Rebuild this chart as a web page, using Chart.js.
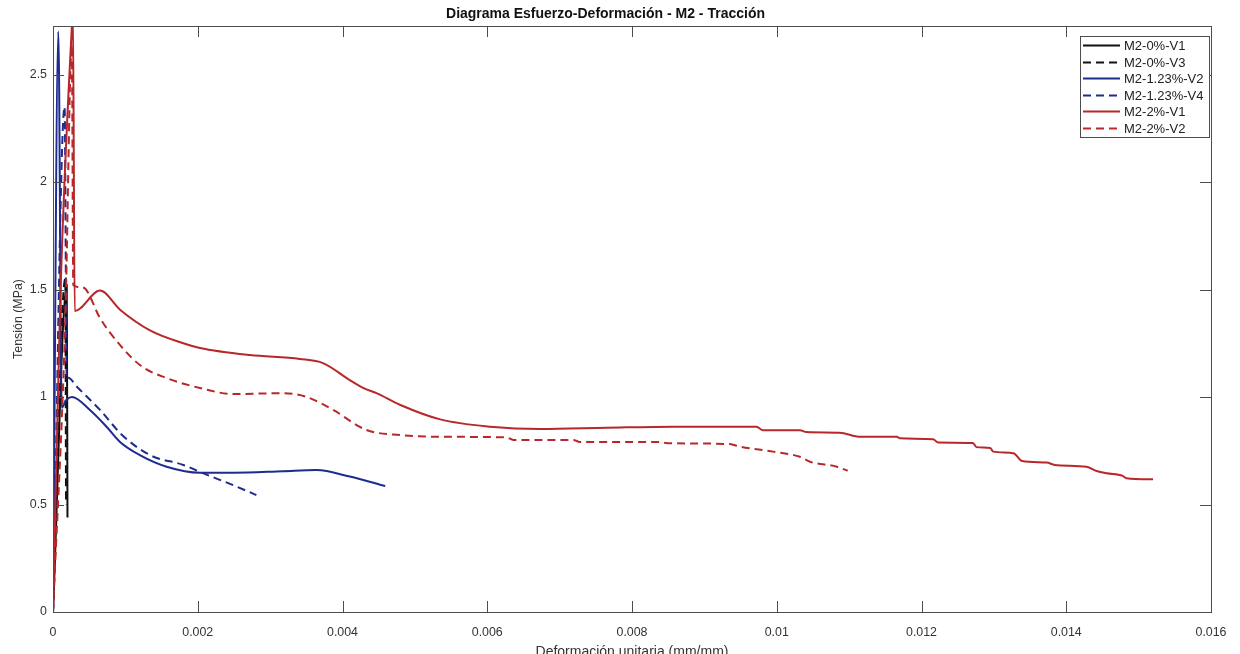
<!DOCTYPE html>
<html>
<head>
<meta charset="utf-8">
<title>Diagrama Esfuerzo-Deformación - M2 - Tracción</title>
<script src="https://cdn.jsdelivr.net/npm/chart.js@4.4.1/dist/chart.umd.min.js"></script>
<style>
  html, body { margin: 0; padding: 0; background: #fff; }
  #wrap { width: 1240px; height: 654px; position: relative; }
</style>
</head>
<body>
<div id="wrap"><canvas id="chart"></canvas></div>
<script>
/* ---- data (strain mm/mm, stress MPa) ---- */
const seriesLabels = ['M2-0%-V1', 'M2-0%-V3', 'M2-1.23%-V2', 'M2-1.23%-V4', 'M2-2%-V1', 'M2-2%-V2'];

const m2_0_v1_x = [0, 0.00019, 0.0002];
const m2_0_v1_y = [0, 1.52, 0.44];

const m2_0_v3_x = [0, 0.00017, 0.00018];
const m2_0_v3_y = [0, 1.55, 0.5];

const m2_123_v2_x = [0, 0.000074, 0.00012, 0.00018, 0.00026, 0.00051, 0.00074, 0.00093, 0.0012,
  0.00157, 0.00203, 0.0025, 0.00318, 0.00364, 0.0041, 0.00459];
const m2_123_v2_y = [0, 2.70, 0.95, 0.985, 1.0, 0.94, 0.862, 0.79, 0.73,
  0.676, 0.648, 0.648, 0.655, 0.66, 0.63, 0.586];

const m2_123_v4_x = [0, 0.00016, 0.00019, 0.00021, 0.00033, 0.00065, 0.00095, 0.00134, 0.0018,
  0.00207, 0.00249, 0.00281];
const m2_123_v4_y = [0, 2.35, 1.08, 1.09, 1.048, 0.94, 0.825, 0.73, 0.684,
  0.646, 0.59, 0.544];

const m2_2_v1_x = [0, 0.0001, 0.00026, 0.000275, 0.0003, 0.00065, 0.00093, 0.00134, 0.0018, 0.00203,
  0.00272, 0.00341, 0.00373, 0.0041, 0.0043, 0.00447, 0.0048, 0.00535, 0.00604, 0.00673,
  0.00765, 0.00857, 0.00972, 0.00981, 0.01032, 0.01041, 0.01087, 0.01115, 0.01166, 0.0117,
  0.01216, 0.01223, 0.01271, 0.01276, 0.01295, 0.01299, 0.01327, 0.01339, 0.01373, 0.01384,
  0.01428, 0.01442, 0.01456, 0.01478, 0.01483, 0.0152];
const m2_2_v1_y = [0, 1.45, 2.72, 2.8, 1.40, 1.495, 1.405, 1.31, 1.25, 1.228,
  1.195, 1.177, 1.158, 1.079, 1.04, 1.018, 0.963, 0.896, 0.862, 0.851,
  0.857, 0.862, 0.862, 0.846, 0.846, 0.837, 0.834, 0.815, 0.815, 0.808,
  0.804, 0.788, 0.786, 0.767, 0.763, 0.746, 0.739, 0.702, 0.695, 0.684,
  0.676, 0.656, 0.645, 0.633, 0.622, 0.617];

const m2_2_v2_x = [0, 0.00017, 0.00026, 0.00028, 0.00041, 0.00065, 0.00079, 0.0012, 0.00157, 0.00203,
  0.00249, 0.00318, 0.0035, 0.00387, 0.00433, 0.0048, 0.00539, 0.00627, 0.00636, 0.00719,
  0.00728, 0.00834, 0.00853, 0.00935, 0.00949, 0.00995, 0.01032, 0.01046, 0.01083, 0.01098];
const m2_2_v2_y = [0, 1.36, 2.64, 1.52, 1.51, 1.367, 1.298, 1.149, 1.088, 1.042,
  1.014, 1.018, 1.001, 0.94, 0.847, 0.823, 0.815, 0.812, 0.80, 0.80,
  0.791, 0.791, 0.785, 0.781, 0.769, 0.746, 0.722, 0.699, 0.676, 0.657];

const xTicks = [0, 0.002, 0.004, 0.006, 0.008, 0.01, 0.012, 0.014, 0.016];
const yTicks = [0, 0.5, 1, 1.5, 2, 2.5];
const yMax = 2.726;

/* ---- styling ---- */
const FONT = "'Liberation Sans', Arial, sans-serif";
const BLACK = '#111111';
const BLUE = '#1e2b8f';
const RED = '#b8282a';
const DASH = [8, 5];
const TICK = 11;

const xs = [m2_0_v1_x, m2_0_v3_x, m2_123_v2_x, m2_123_v4_x, m2_2_v1_x, m2_2_v2_x];
const ys = [m2_0_v1_y, m2_0_v3_y, m2_123_v2_y, m2_123_v4_y, m2_2_v1_y, m2_2_v2_y];
const colors = [BLACK, BLACK, BLUE, BLUE, RED, RED];
const dashes = [[], DASH, [], DASH, [], DASH];

const datasets = seriesLabels.map((label, i) => ({
  label,
  data: xs[i].map((x, j) => ({ x, y: ys[i][j] })),
  borderColor: colors[i],
  borderDash: dashes[i],
  borderWidth: 2,
  pointRadius: 0,
  cubicInterpolationMode: 'monotone',
  fill: false,
  order: seriesLabels.length - i,   // later series on top, like MATLAB
}));

// box around the plot + inward ticks on all four sides
const framePlugin = {
  id: 'frame',
  afterDatasetsDraw(chart) {
    const { ctx, chartArea: a, scales: { x, y } } = chart;
    ctx.save();
    ctx.strokeStyle = '#4d4d4d';
    ctx.lineWidth = 1;
    ctx.strokeRect(Math.round(a.left) + 0.5, Math.round(a.top) + 0.5,
      Math.round(a.right - a.left), Math.round(a.bottom - a.top));
    ctx.beginPath();
    x.ticks.forEach(t => {
      const px = Math.round(x.getPixelForValue(t.value)) + 0.5;
      ctx.moveTo(px, a.bottom); ctx.lineTo(px, a.bottom - TICK);
      ctx.moveTo(px, a.top); ctx.lineTo(px, a.top + TICK);
    });
    y.ticks.forEach(t => {
      const py = Math.round(y.getPixelForValue(t.value)) + 0.5;
      ctx.moveTo(a.left, py); ctx.lineTo(a.left + TICK, py);
      ctx.moveTo(a.right, py); ctx.lineTo(a.right - TICK, py);
    });
    ctx.stroke();
    ctx.restore();
  }
};

// MATLAB-like legend box in the upper right corner of the axes
const legendPlugin = {
  id: 'boxLegend',
  afterDraw(chart) {
    const { ctx, chartArea: a } = chart;
    const rowH = 16.5, boxW = 129, boxH = 101;
    const bx = Math.round(a.right) - 2 - boxW, by = Math.round(a.top) + 10;
    ctx.save();
    ctx.fillStyle = '#fff';
    ctx.fillRect(bx, by, boxW, boxH);
    ctx.strokeStyle = '#4d4d4d';
    ctx.lineWidth = 1;
    ctx.strokeRect(bx + 0.5, by + 0.5, boxW, boxH);
    ctx.font = '13px ' + FONT;
    ctx.textBaseline = 'middle';
    ctx.fillStyle = '#222';
    chart.data.datasets.forEach((ds, i) => {
      const cy = Math.round(by + 9 + i * rowH) + 0.5;
      ctx.beginPath();
      ctx.strokeStyle = ds.borderColor;
      ctx.lineWidth = 2;
      ctx.setLineDash(ds.borderDash);
      ctx.moveTo(bx + 3, cy);
      ctx.lineTo(bx + 40, cy);
      ctx.stroke();
      ctx.setLineDash([]);
      ctx.fillText(ds.label, bx + 44, cy + 0.5);
    });
    ctx.restore();
  }
};

new Chart(document.getElementById('chart'), {
  type: 'line',
  data: { datasets },
  plugins: [framePlugin, legendPlugin],
  options: {
    responsive: true,
    maintainAspectRatio: false,
    animation: false,
    layout: { padding: { top: 0, right: 29, bottom: 0, left: 0 } },
    plugins: {
      legend: { display: false },
      tooltip: { enabled: false },
      title: {
        display: true,
        text: 'Diagrama Esfuerzo-Deformación - M2 - Tracción',
        color: '#111',
        font: { family: FONT, size: 14, weight: 'bold', lineHeight: 1.2 },
        padding: { top: 5.6, bottom: 3.6 },
      },
    },
    scales: {
      x: {
        type: 'linear',
        min: 0,
        max: 0.016,
        afterFit: s => { s.height = 42; },
        afterBuildTicks: s => { s.ticks = xTicks.map(v => ({ value: v })); },
        grid: { display: false, drawTicks: false },
        border: { display: false },
        ticks: {
          color: '#333',
          font: { family: FONT, size: 12.4 },
          padding: 13,
          maxRotation: 0,
          autoSkip: false,
          callback: v => String(+v.toFixed(4)),
        },
        title: {
          display: true,
          text: 'Deformación unitaria (mm/mm)',
          color: '#333',
          font: { family: FONT, size: 14, lineHeight: 1.2 },
          padding: { top: 0, bottom: -7 },
        },
      },
      y: {
        type: 'linear',
        min: 0,
        max: yMax,
        afterFit: s => { s.width = 53; },
        afterBuildTicks: s => { s.ticks = yTicks.map(v => ({ value: v })); },
        grid: { display: false, drawTicks: false },
        border: { display: false },
        ticks: {
          color: '#333',
          font: { family: FONT, size: 12.4 },
          padding: 6,
          autoSkip: false,
          callback: v => String(+v.toFixed(2)),
        },
        title: {
          display: true,
          text: 'Tensión (MPa)',
          color: '#333',
          font: { family: FONT, size: 12.4, lineHeight: 1.2 },
          padding: { top: 11, bottom: 0 },
        },
      },
    },
  },
});
</script>
</body>
</html>
